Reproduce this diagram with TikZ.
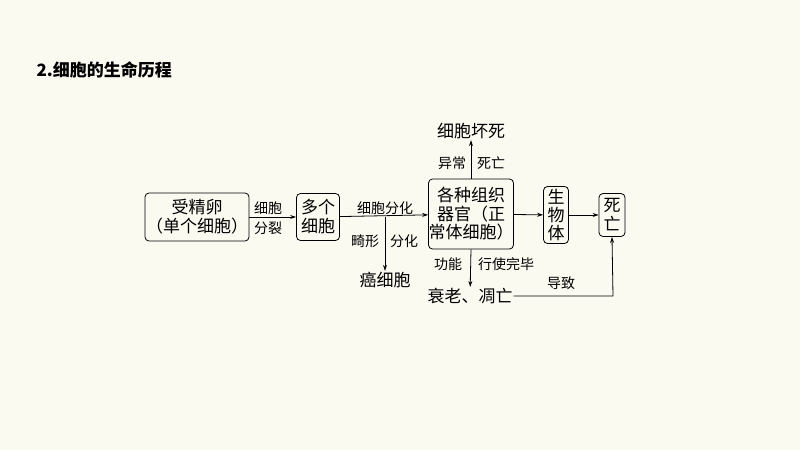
\documentclass[tikz,border=0pt]{standalone}
\usepackage{fontspec}
\setmainfont{Noto Sans CJK SC}
\usetikzlibrary{arrows.meta}
\begin{document}
\begin{tikzpicture}[x=1pt,y=-1pt,
 box/.style={draw,rounded corners=4pt,thick,align=center,inner sep=1pt,font=\fontsize{17}{19}\selectfont},
 lbl/.style={font=\fontsize{14}{15}\selectfont,inner sep=1pt},
 big/.style={font=\fontsize{17}{18}\selectfont,inner sep=1pt},
 arr/.style={-{Stealth[length=6pt,width=4pt]},thick}]
\fill[fill={rgb,255:red,251;green,250;blue,241}] (0,0) rectangle (800,450);
\useasboundingbox (0,0) rectangle (800,450);
\node[anchor=west,font=\bfseries\fontsize{17}{18}\selectfont] (t) at (33,70) {2.细胞的生命历程};
\node[box,minimum width=101pt,minimum height=48pt] (a) at (197,217) {受精卵\\（单个细胞）};
\node[box,minimum width=43pt,minimum height=47pt] (b) at (318,217) {多个\\细胞};
\node[box,minimum width=85pt,minimum height=70pt,inner sep=0pt,font=\fontsize{17}{18.5}\selectfont] (c) at (471,214) {各种组织\\器官（正\\常体细胞）};
\node[box,minimum width=25pt,minimum height=57pt,inner sep=0pt,font=\fontsize{17}{18}\selectfont] (d) at (556,215) {生\\物\\体};
\node[box,minimum width=26pt,minimum height=43pt,inner sep=0pt] (e) at (612,215) {死\\亡};
\node[big] (n) at (471,131) {细胞坏死};
\node[big] (ca) at (385,280) {癌细胞};
\node[big] (s) at (470,296) {衰老、凋亡};
\coordinate (br) at (385,217);
\coordinate (cr) at (613,296);
\draw[arr] (a) -- (b);
\draw[arr] (b) -- (c);
\draw[arr] (br) -- (ca);
\draw[arr] (c.north) -- (n);
\draw[arr] (c.south) -- (s);
\draw[arr] (c) -- (d);
\draw[arr] (d) -- (e);
\draw[arr] (s) -- (cr) -- (e.south);
\node[lbl] at (268,208) {细胞};
\node[lbl] at (268,228) {分裂};
\node[lbl] at (385,208) {细胞分化};
\node[lbl] at (365,241) {畸形};
\node[lbl] at (404,241) {分化};
\node[lbl] at (452,163) {异常};
\node[lbl] at (491,163) {死亡};
\node[lbl] at (448,264) {功能};
\node[lbl] at (506,264) {行使完毕};
\node[lbl] at (561,283) {导致};
\end{tikzpicture}
\end{document}
